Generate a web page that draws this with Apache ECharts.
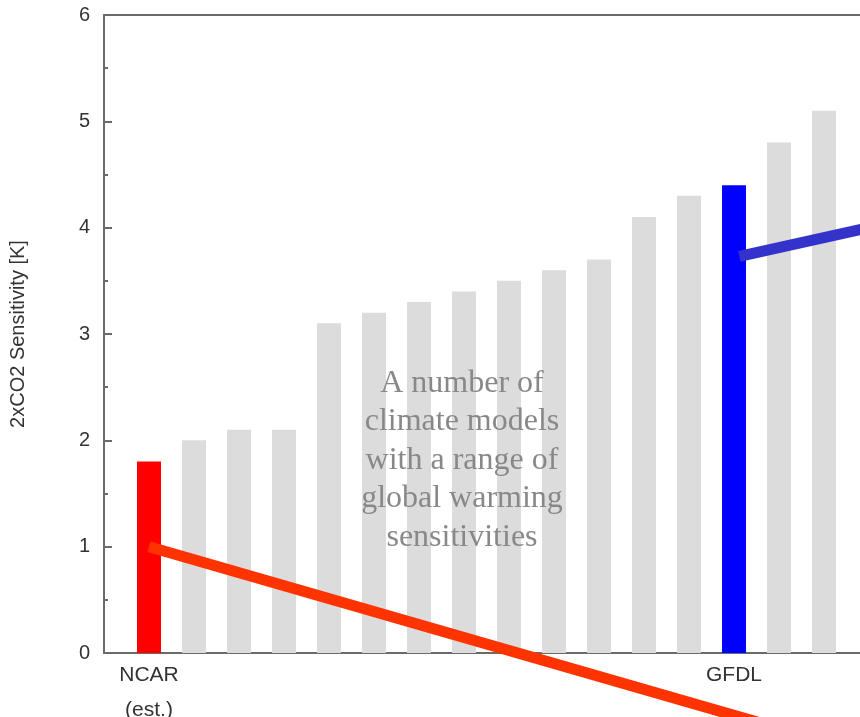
<!DOCTYPE html>
<html>
<head>
<meta charset="utf-8">
<script src="https://cdn.jsdelivr.net/npm/echarts@6/dist/echarts.min.js"></script>
<style>
  html, body { margin: 0; padding: 0; background: #fff; }
  #sens { width: 860px; height: 717px; }
</style>
</head>
<body>
<div id="sens"></div>
<script>
// climate sensitivity per model, sorted, position 1..16 on x
var modelValues = [1.8, 2.0, 2.1, 2.1, 3.1, 3.2, 3.3, 3.4, 3.5, 3.6, 3.7, 4.1, 4.3, 4.4, 4.8, 5.1];
// labels on the x ticks (index = x position)
var xLabels = ['', 'NCAR\n(est.)', '', '', '', '', '', '', '', '', '', '', '', '', 'GFDL', '', '', ''];
var yTicks = [0, 1, 2, 3, 4, 5, 6];
// arrows pointing at the two highlighted models
var redArrow = [[1, 1.0], [16, -0.83]];
var blueArrow = [[14.12, 3.73], [17, 4.0]];

var highlight = { 0: '#ff0000', 13: '#0000ff' };

var myChart = echarts.init(document.getElementById('sens'));

var barData = modelValues.map(function (v, i) {
    return {
        value: [i + 1, v],
        itemStyle: { color: highlight[i] || '#dcdcdc' }
    };
});

var axisCol = '#6a6a6a';
var sans = '"Liberation Sans", Arial, sans-serif';

option = {
    animation: false,
    backgroundColor: '#fff',
    grid: { left: 104, top: 15, width: 765, bottom: 64, containLabel: false, outerBoundsMode: 'none' },
    xAxis: [{
        type: 'value',
        min: 0,
        max: 17,
        interval: 1,
        splitLine: { show: false },
        axisTick: { show: false },
        axisLine: { show: true, onZero: false, lineStyle: { color: axisCol, width: 2 } },
        axisLabel: {
            margin: 5,
            color: '#333',
            fontFamily: sans,
            fontSize: 21,
            lineHeight: 35,
            verticalAlign: 'top',
            formatter: function (v) { return xLabels[v] || ''; }
        }
    }, {
        type: 'value',
        position: 'top',
        min: 0,
        max: 17,
        splitLine: { show: false },
        axisTick: { show: false },
        axisLabel: { show: false },
        axisLine: { show: true, onZero: false, lineStyle: { color: axisCol, width: 2 } }
    }],
    yAxis: [{
        type: 'value',
        min: 0,
        max: 6,
        interval: 1,
        name: '2xCO2 Sensitivity [K]',
        nameLocation: 'middle',
        nameGap: 76,
        nameTextStyle: { color: '#333', fontFamily: sans, fontSize: 20 },
        splitLine: { show: false },
        axisLine: { show: true, onZero: false, lineStyle: { color: axisCol, width: 2 } },
        axisTick: { show: true, inside: true, length: 8, lineStyle: { color: axisCol, width: 2 } },
        minorTick: { show: true, splitNumber: 2, length: 4, lineStyle: { color: axisCol, width: 2 } },
        axisLabel: {
            inside: false,
            margin: 14,
            color: '#333',
            fontFamily: sans,
            fontSize: 20,
            formatter: function (v) { return yTicks.indexOf(v) >= 0 ? String(v) : ''; }
        }
    }, {
        type: 'value',
        position: 'right',
        min: 0,
        max: 6,
        interval: 1,
        splitLine: { show: false },
        axisLabel: { show: false },
        axisLine: { show: true, onZero: false, lineStyle: { color: axisCol, width: 2 } },
        axisTick: { show: true, inside: true, length: 8, lineStyle: { color: axisCol, width: 2 } }
    }],
    series: [{
        type: 'bar',
        data: barData,
        barWidth: 24,
        z: 2
    }, {
        type: 'line',
        data: redArrow,
        clip: false,
        symbol: 'none',
        lineStyle: { color: '#ff3300', width: 11, cap: 'butt' },
        z: 5
    }, {
        type: 'line',
        data: blueArrow,
        clip: false,
        symbol: 'none',
        lineStyle: { color: '#3333cc', width: 11, cap: 'butt' },
        z: 5
    }],
    graphic: [{
        type: 'text',
        x: 462,
        y: 364,
        z: 10,
        style: {
            text: 'A number of\nclimate models\nwith a range of\nglobal warming\nsensitivities',
            align: 'center',
            verticalAlign: 'top',
            fontFamily: '"Liberation Serif", "Times New Roman", serif',
            fontSize: 32,
            lineHeight: 38.5,
            fill: '#888888'
        }
    }]
};

myChart.setOption(option);
</script>
</body>
</html>
